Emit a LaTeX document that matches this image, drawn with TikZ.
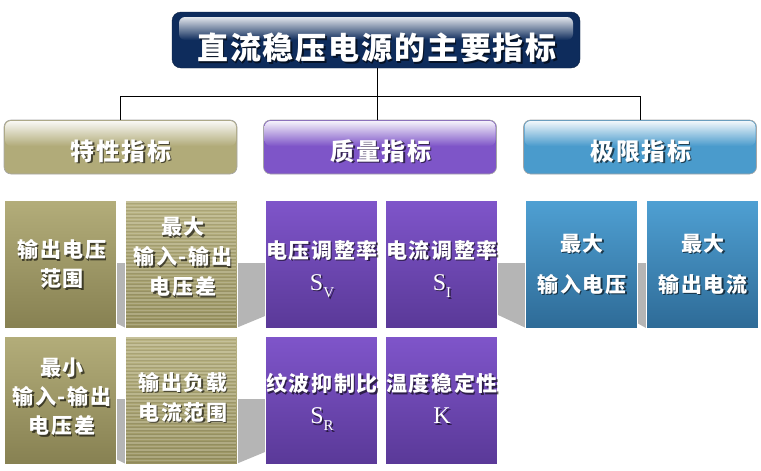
\documentclass[tikz,border=0pt]{standalone}
\usepackage{fontspec}
\setmainfont{Noto Sans CJK SC}
\newfontfamily\cjkt[LetterSpace=6]{Noto Sans CJK SC}
\newfontfamily\cjkh[LetterSpace=6]{Noto Sans CJK SC}
\newfontfamily\cjkc[LetterSpace=8]{Noto Sans CJK SC}
\newfontfamily\latr{Liberation Serif}
\newcommand\subS[2]{{\latr\mdseries\fontsize{24}{24}\selectfont #1\raisebox{-0.3em}{\fontsize{15}{15}\selectfont #2}}}
\newcommand\shtxt[4]{%
  \node[txtsh,#3] (#1s) at #2 {#4};
  \node[txt,#3] (#1) at #2 {#4};}
\definecolor{navy}{HTML}{0E2C5C}
\definecolor{olive}{HTML}{B1AB79}
\definecolor{oliveL}{HTML}{B3AD7A}
\definecolor{oliveD}{HTML}{878152}
\definecolor{oliveSL}{HTML}{BAB484}
\definecolor{oliveSD}{HTML}{9A9462}
\definecolor{purp}{HTML}{7E55C8}
\definecolor{purpL}{HTML}{7F55CA}
\definecolor{purpD}{HTML}{5A3998}
\definecolor{blu}{HTML}{4A9BCC}
\definecolor{bluL}{HTML}{4FA0D3}
\definecolor{bluD}{HTML}{2E6B97}
\definecolor{shd}{HTML}{B5B5B5}
\begin{document}
\begin{tikzpicture}[x=1pt,y=-1pt,
  txt/.style={text=white,align=center,inner sep=0pt},
  txtsh/.style={text=black,opacity=0.6,align=center,inner sep=0pt,xshift=1.5pt,yshift=-1.5pt},
  hdr/.style={draw=black!35,line width=0.6pt,rounded corners=7pt,minimum width=233pt,minimum height=54pt,inner sep=0pt},
  bx/.style={draw=white,line width=1pt,minimum width=112pt,minimum height=128pt,inner sep=0pt},
  conn/.style={draw=black,line width=1pt},
  boxfont/.style={font=\cjkc\bfseries\fontsize{21}{#1}\selectfont},
  stripeL/.style={white,opacity=0.18,line width=1.3pt},
  stripeD/.style={black,opacity=0.07,line width=1pt}]
\useasboundingbox (0,0) rectangle (761,471);

% title
\node[draw=navy!70!black,fill=navy,rounded corners=9pt,minimum width=408pt,minimum height=56pt,inner sep=0pt] (T) at (376,40) {};
\shade[rounded corners=6pt,top color=white!88!navy,middle color=white!62!navy,bottom color=navy] (179,17) rectangle (573,40);
\shtxt{Tt}{(377,48)}{font=\cjkt\bfseries\fontsize{31}{31}\selectfont}{直流稳压电源的主要指标}

% headers
\node[hdr,fill=olive] (H1) at (120.5,147) {};
\node[hdr,fill=purp] (H2) at (380,147) {};
\node[hdr,fill=blu] (H3) at (640,147) {};
\shade[rounded corners=6pt,top color=white!92!olive,bottom color=olive] (5,121) rectangle (236,146);
\shade[rounded corners=6pt,top color=white!92!purp,bottom color=purp] (264.5,121) rectangle (495.5,146);
\shade[rounded corners=6pt,top color=white!92!blu,bottom color=blu] (524.5,121) rectangle (755.5,146);
\shtxt{H1t}{(121,151)}{font=\cjkh\bfseries\fontsize{24}{24}\selectfont}{特性指标}
\shtxt{H2t}{(381,151)}{font=\cjkh\bfseries\fontsize{24}{24}\selectfont}{质量指标}
\shtxt{H3t}{(641,151)}{font=\cjkh\bfseries\fontsize{24}{24}\selectfont}{极限指标}

% connectors
\coordinate (J) at (377,96);
\draw[conn] (T.south -| J) -- (H2.north -| J);
\draw[conn] (H1.north) -- (H1.north |- J) -- (H3.north |- J) -- (H3.north);

% gray folds
\fill[shd] (116,263) -- (126,263) -- (126,328) -- (116,323) -- cycle;
\fill[shd] (116,399) -- (126,399) -- (126,464) -- (116,459) -- cycle;
\fill[shd] (236,263) -- (265,263) -- (265,316) -- (236,328) -- cycle;
\fill[shd] (236,399) -- (265,399) -- (265,452) -- (236,464) -- cycle;
\fill[shd] (496,263) -- (526,263) -- (526,328) -- (496,314) -- cycle;
\fill[shd] (637,263) -- (646,263) -- (646,328) -- (637,323) -- cycle;

% boxes
\node[bx,top color=oliveL,bottom color=oliveD] (A1) at (60,264) {};
\node[bx,top color=oliveSL,bottom color=oliveSD] (A2) at (181,264) {};
\node[bx,top color=oliveL,bottom color=oliveD] (A3) at (60,400) {};
\node[bx,top color=oliveSL,bottom color=oliveSD] (A4) at (181,400) {};
\node[bx,top color=purpL,bottom color=purpD] (B1) at (321,264) {};
\node[bx,top color=purpL,bottom color=purpD] (B2) at (441,264) {};
\node[bx,top color=purpL,bottom color=purpD] (B3) at (321,400) {};
\node[bx,top color=purpL,bottom color=purpD] (B4) at (441,400) {};
\node[bx,top color=bluL,bottom color=bluD] (C1) at (581,264) {};
\node[bx,top color=bluL,bottom color=bluD] (C2) at (702,264) {};

% stripes on the textured boxes
\foreach \yy in {202,205.5,...,326} {
  \draw[stripeL] (126,\yy) -- (236,\yy);
  \draw[stripeL] (126,\yy+136) -- (236,\yy+136);
  \draw[stripeD] (126,\yy+1.7) -- (236,\yy+1.7);
  \draw[stripeD] (126,\yy+137.7) -- (236,\yy+137.7);
}

% box texts
\shtxt{A1t}{(62,264)}{boxfont=29}{输出电压\\范围}
\shtxt{A2t}{(183,257)}{boxfont=30}{最大\\输入-输出\\电压差}
\shtxt{A3t}{(62,397)}{boxfont=29}{最小\\输入-输出\\电压差}
\shtxt{A4t}{(183,397)}{boxfont=30}{输出负载\\电流范围}
\shtxt{B1t}{(322,269)}{boxfont=32}{电压调整率\\\subS{S}{V}}
\shtxt{B2t}{(442,269)}{boxfont=32}{电流调整率\\\subS{S}{I}}
\shtxt{B3t}{(322,402)}{boxfont=32}{纹波抑制比\\\subS{S}{R}}
\shtxt{B4t}{(442,402)}{boxfont=32}{温度稳定性\\\subS{K}{}}
\shtxt{C1t}{(582,264)}{boxfont=41}{最大\\输入电压}
\shtxt{C2t}{(703,264)}{boxfont=41}{最大\\输出电流}
\end{tikzpicture}
\end{document}
